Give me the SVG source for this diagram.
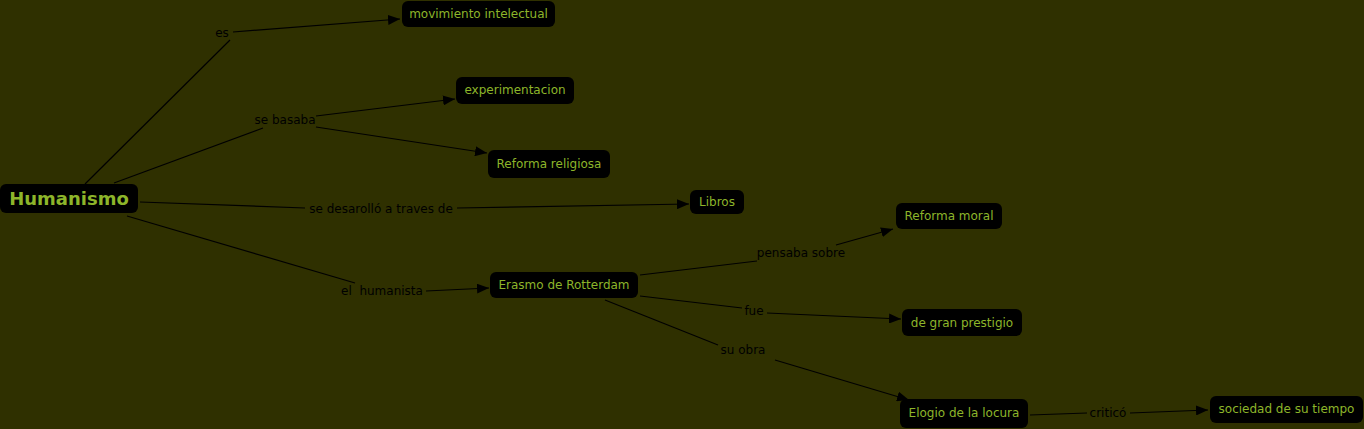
<svg xmlns="http://www.w3.org/2000/svg" width="1364" height="429" viewBox="0 0 1364 429">
<style>
.bg{fill:#2f3000}
.node rect{fill:#000;rx:6px;ry:6px}
.node text{fill:#8db52a;font-family:"DejaVu Sans",Verdana,sans-serif;font-size:12px;text-anchor:middle}
.lbl{fill:#000;font-family:"DejaVu Sans",Verdana,sans-serif;font-size:12px;text-anchor:middle}
#conn line{stroke:#000;stroke-width:1.2}
</style>
<defs>
<marker id="ah" viewBox="0 0 12 10" refX="12" refY="5" markerWidth="12" markerHeight="10" markerUnits="userSpaceOnUse" orient="auto">
<path d="M0,0L12,5L0,10z" fill="#000"/>
</marker>
</defs>
<rect class="bg" width="1364" height="429"/>
<g id="conn">
<line x1="85" y1="184" x2="230" y2="40"/>
<line x1="233" y1="32" x2="400" y2="19" marker-end="url(#ah)"/>
<line x1="114" y1="183" x2="263" y2="128"/>
<line x1="316" y1="116" x2="455" y2="99" marker-end="url(#ah)"/>
<line x1="316" y1="127" x2="487" y2="153" marker-end="url(#ah)"/>
<line x1="140" y1="202" x2="305" y2="208"/>
<line x1="457" y1="208" x2="689" y2="204" marker-end="url(#ah)"/>
<line x1="127" y1="216" x2="355" y2="283"/>
<line x1="426" y1="291" x2="489" y2="288" marker-end="url(#ah)"/>
<line x1="640" y1="275" x2="757" y2="261"/>
<line x1="836" y1="245" x2="893" y2="229" marker-end="url(#ah)"/>
<line x1="640" y1="296" x2="742" y2="308"/>
<line x1="767" y1="313" x2="901" y2="319" marker-end="url(#ah)"/>
<line x1="605" y1="300" x2="718" y2="345"/>
<line x1="775" y1="360" x2="909" y2="400" marker-end="url(#ah)"/>
<line x1="1030" y1="415" x2="1087" y2="413"/>
<line x1="1130" y1="413" x2="1208" y2="410" marker-end="url(#ah)"/>
<text class="lbl" x="222" y="37">es</text>
<text class="lbl" x="285" y="124">se basaba</text>
<text class="lbl" x="381" y="213">se desarolló a traves de</text>
<text class="lbl" x="382" y="295" xml:space="preserve">el  humanista</text>
<text class="lbl" x="801" y="257">pensaba sobre</text>
<text class="lbl" x="754" y="315">fue</text>
<text class="lbl" x="743" y="354">su obra</text>
<text class="lbl" x="1108" y="417">criticó</text>
</g>
<g id="n-humanismo" class="node"><rect x="0" y="184" width="138" height="29"/><text x="69" y="205" style="font-size:18px;font-weight:bold">Humanismo</text></g>
<g id="n-movimiento" class="node"><rect x="402" y="1" width="153" height="26"/><text x="478.5" y="18">movimiento intelectual</text></g>
<g id="n-experimentacion" class="node"><rect x="456" y="77" width="118" height="27"/><text x="515" y="94">experimentacion</text></g>
<g id="n-reforma-religiosa" class="node"><rect x="488" y="150" width="122" height="28"/><text x="549" y="168">Reforma religiosa</text></g>
<g id="n-libros" class="node"><rect x="690" y="190" width="54" height="24"/><text x="717" y="206">Libros</text></g>
<g id="n-reforma-moral" class="node"><rect x="896" y="203" width="106" height="26"/><text x="949" y="220">Reforma moral</text></g>
<g id="n-erasmo" class="node"><rect x="490" y="272" width="148" height="26"/><text x="564" y="289">Erasmo de Rotterdam</text></g>
<g id="n-prestigio" class="node"><rect x="902" y="309" width="120" height="27"/><text x="962" y="327">de gran prestigio</text></g>
<g id="n-elogio" class="node"><rect x="900" y="399" width="128" height="29"/><text x="964" y="417">Elogio de la locura</text></g>
<g id="n-sociedad" class="node"><rect x="1210" y="396" width="153" height="27"/><text x="1286.5" y="413">sociedad de su tiempo</text></g>
</svg>
